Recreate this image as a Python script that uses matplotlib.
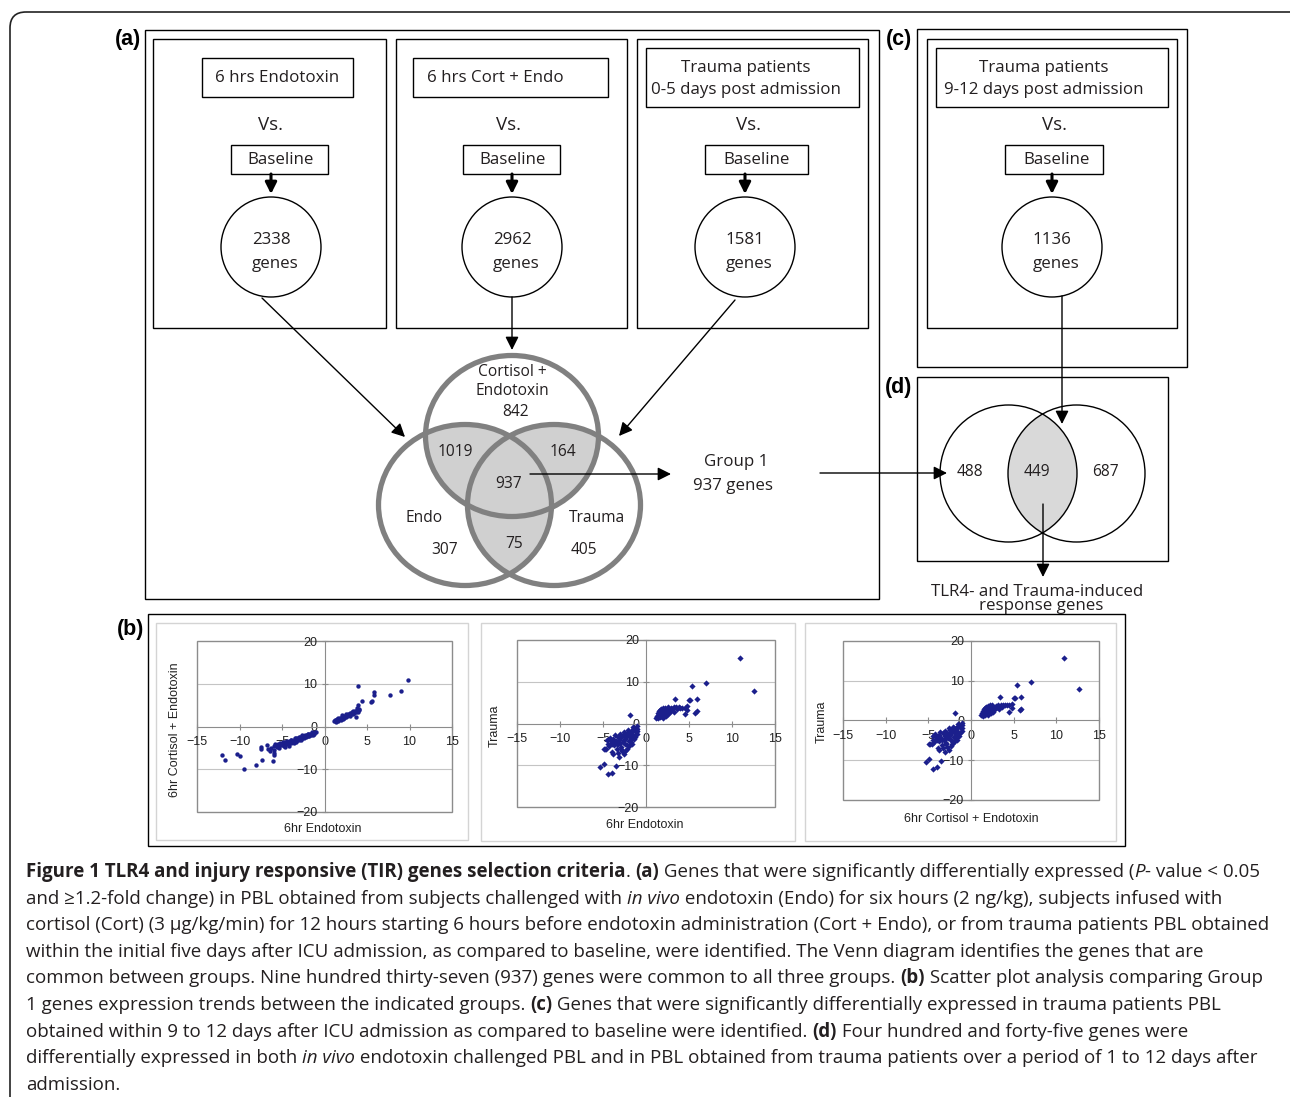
import numpy as np
import matplotlib
matplotlib.use("Agg")
from matplotlib import pyplot as plt
from matplotlib.patches import Rectangle, Ellipse, Circle, FancyBboxPatch

W, H = 1290, 1097
FONT = "Open Sans"
CHART_FONT = "Liberation Sans"
INK = "#231f20"

# ---- panel (a) inputs ----
conditions = ["6 hrs Endotoxin", "6 hrs Cort + Endo", "Trauma patients\n0-5 days post admission"]
condition_genes = [2338, 2962, 1581]

# ---- three way venn counts ----
venn3_names = ["Cortisol +\nEndotoxin", "Endo", "Trauma"]
only_cort_endo, only_endo, only_trauma = 842, 307, 405
endo_and_cort, cort_and_trauma, endo_and_trauma = 1019, 164, 75
all_three = 937

# ---- panel (c) / (d) ----
late_condition = "Trauma patients\n9-12 days post admission"
late_genes = 1136
venn2_counts = [488, 449, 687]

# ---- panel (b) scatter data (log fold changes) ----
endo_vs_cort = [
    (-12.1, -6.6), (-11.7, -7.9), (-10.3, -6.4), (-10.0, -7.0), (-9.5, -9.9), (-8.1, -9.1),
    (-7.5, -4.7), (-7.5, -5.2), (-6.8, -4.4), (-6.7, -5.2), (-7.3, -7.8), (-6.4, -5.8),
    (-6.1, -8.1), (-6.0, -4.6), (-6.0, -5.6), (-5.9, -6.2), (-5.9, -6.7), (-6.3, -5.0),
    (-5.8, -4.2), (-5.6, -4.8), (-5.5, -4.0), (-5.3, -4.5), (-5.2, -3.8), (-5.0, -4.3),
    (-4.9, -3.7), (-4.8, -4.6), (-4.6, -3.6), (-4.5, -4.0), (-4.4, -3.3), (-4.3, -4.2),
    (-4.1, -3.5), (-4.0, -3.9), (-3.9, -3.1), (-3.8, -3.6), (-3.7, -3.3), (-3.6, -3.8),
    (-3.5, -3.0), (-3.4, -3.4), (-3.3, -2.8), (-3.2, -3.2), (-3.1, -2.7), (-3.0, -3.1),
    (-2.9, -2.5), (-2.8, -2.9), (-2.7, -2.4), (-2.6, -2.8), (-2.5, -2.3), (-2.4, -2.6),
    (-2.3, -2.1), (-2.2, -2.5), (-2.1, -2.0), (-2.0, -2.3), (-1.9, -1.8), (-1.8, -2.2),
    (-1.7, -1.7), (-1.6, -2.0), (-1.5, -1.6), (-1.4, -1.9), (-1.3, -1.5), (-1.2, -1.7),
    (-1.1, -1.4), (-1.0, -1.3), (-2.6, -2.1), (-3.0, -2.5), (-3.5, -2.8), (-4.0, -3.2),
    (-4.5, -3.6), (-5.0, -4.0), (-2.0, -1.7), (-1.5, -1.3), (-3.3, -3.6), (-2.8, -3.2),
    (-4.2, -4.5), (-5.4, -5.1), (-4.7, -4.9),
    (1.1, 1.3), (1.2, 1.6), (1.3, 1.2), (1.4, 1.5), (1.5, 1.8), (1.6, 1.4), (1.7, 1.7),
    (1.8, 2.0), (1.9, 1.6), (2.0, 1.9), (2.1, 2.3), (2.2, 1.8), (2.3, 2.1), (2.4, 2.5),
    (2.5, 2.2), (2.6, 2.8), (2.7, 2.4), (2.8, 3.0), (2.9, 2.6), (3.0, 3.2), (3.1, 2.9),
    (3.2, 3.4), (3.3, 3.0), (3.4, 3.6), (3.5, 3.2), (3.6, 3.7), (3.7, 3.3), (3.8, 3.9),
    (3.9, 3.5), (3.8, 4.3), (3.9, 5.0), (3.7, 2.2), (4.0, 3.8), (4.1, 4.2), (2.0, 2.6),
    (1.6, 2.1), (2.5, 3.0), (3.0, 2.5), (1.4, 1.1), (2.2, 2.5),
    (3.9, 9.5), (4.4, 6.0), (5.5, 5.7), (5.6, 6.0), (5.8, 8.1), (5.8, 7.4), (7.7, 7.4),
    (9.0, 8.2), (9.8, 10.9),
]
endo_vs_trauma = [
    (-1.0, -1.2), (-1.2, -2.0), (-1.3, -1.5), (-1.5, -2.8), (-1.6, -1.8), (-1.8, -3.5),
    (-1.9, -2.2), (-2.0, -4.2), (-2.1, -1.6), (-2.2, -3.0), (-2.3, -2.4), (-2.4, -5.0),
    (-2.5, -3.6), (-2.6, -2.0), (-2.7, -4.4), (-2.8, -3.1), (-2.9, -5.6), (-3.0, -2.6),
    (-3.1, -3.9), (-3.2, -4.8), (-3.3, -3.2), (-3.4, -6.2), (-3.5, -4.3), (-3.6, -2.8),
    (-3.7, -5.2), (-3.8, -3.6), (-4.0, -4.6), (-4.2, -3.4), (-4.3, -5.5), (-4.5, -4.0),
    (-4.8, -6.0), (-4.9, -6.0), (-4.6, -6.0), (-4.0, -5.0), (-3.8, -7.4), (-3.1, -8.0),
    (-2.6, -7.4), (-2.8, -6.6), (-2.2, -6.0), (-1.6, -4.8), (-1.4, -3.8), (-1.1, -2.6),
    (-1.7, -2.6), (-2.0, -3.0), (-2.4, -3.0), (-2.6, -4.0), (-3.0, -4.6), (-3.4, -5.0),
    (-2.2, -5.2), (-1.9, -4.0), (-1.3, -3.2), (-1.0, -1.8), (-1.2, -1.1), (-1.5, -1.4),
    (-2.0, -2.0), (-2.5, -2.5), (-3.0, -3.5), (-3.6, -4.5), (-4.1, -4.2), (-2.9, -6.0),
    (-3.3, -7.0), (-2.4, -6.5), (-2.0, -5.5), (-1.8, -4.5), (-3.9, -6.8), (-4.4, -5.0),
    (-1.9, 2.0), (-5.3, -10.4), (-4.9, -9.6), (-4.4, -12.2), (-4.0, -11.8), (-3.5, -10.2),
    (-1.5, -0.8), (-1.1, -0.6),
    (1.2, 1.3), (1.3, 1.8), (1.4, 1.2), (1.5, 2.2), (1.6, 1.5), (1.7, 2.6), (1.8, 1.9),
    (1.9, 3.0), (2.0, 1.4), (2.1, 2.4), (2.2, 3.3), (2.3, 1.8), (2.4, 2.8), (2.5, 3.7),
    (2.6, 2.2), (2.7, 3.2), (2.5, 4.0), (2.2, 3.8), (1.8, 3.4), (1.5, 2.9), (1.3, 1.5),
    (2.0, 2.0), (2.4, 2.4), (2.6, 3.0), (2.0, 3.6), (1.6, 3.2), (2.8, 2.8), (2.9, 3.6),
    (3.0, 3.4), (3.3, 2.8), (3.4, 5.8), (3.6, 3.4), (3.8, 3.9), (4.0, 3.8), (4.2, 3.8),
    (4.5, 3.8), (4.8, 4.2), (4.8, 3.2), (4.5, 2.2), (5.05, 5.6), (5.15, 5.7), (5.7, 2.6),
    (5.9, 3.0), (5.9, 5.8), (5.4, 9.0), (7.0, 9.8), (10.9, 15.6), (12.6, 7.8), (3.2, 4.0),
    (3.5, 3.9), (1.4, 2.5), (1.9, 2.3),
]
# the third scatter shows the same cloud as the second one
cort_vs_trauma = list(endo_vs_trauma)

x_ticks = [-15, -10, -5, 0, 5, 10, 15]
y_ticks = [-20, -10, 0, 10, 20]

caption = [
    [("Figure 1 TLR4 and injury responsive (TIR) genes selection criteria", "bold", "normal"),
     (". ", "normal", "normal"), ("(a)", "bold", "normal"),
     (" Genes that were significantly differentially expressed (", "normal", "normal"),
     ("P", "normal", "italic"), ("- value < 0.05", "normal", "normal")],
    [("and \u22651.2-fold change) in PBL obtained from subjects challenged with ", "normal", "normal"),
     ("in vivo", "normal", "italic"),
     (" endotoxin (Endo) for six hours (2 ng/kg), subjects infused with", "normal", "normal")],
    [("cortisol (Cort) (3 \u00b5g/kg/min) for 12 hours starting 6 hours before endotoxin administration (Cort + Endo), or from trauma patients PBL obtained", "normal", "normal")],
    [("within the initial five days after ICU admission, as compared to baseline, were identified. The Venn diagram identifies the genes that are", "normal", "normal")],
    [("common between groups. Nine hundred thirty-seven (937) genes were common to all three groups. ", "normal", "normal"),
     ("(b)", "bold", "normal"), (" Scatter plot analysis comparing Group", "normal", "normal")],
    [("1 genes expression trends between the indicated groups. ", "normal", "normal"),
     ("(c)", "bold", "normal"),
     (" Genes that were significantly differentially expressed in trauma patients PBL", "normal", "normal")],
    [("obtained within 9 to 12 days after ICU admission as compared to baseline were identified. ", "normal", "normal"),
     ("(d)", "bold", "normal"), (" Four hundred and forty-five genes were", "normal", "normal")],
    [("differentially expressed in both ", "normal", "normal"), ("in vivo", "normal", "italic"),
     (" endotoxin challenged PBL and in PBL obtained from trauma patients over a period of 1 to 12 days after", "normal", "normal")],
    [("admission.", "normal", "normal")],
]

fig = plt.figure(figsize=(W / 100, H / 100), dpi=100)
ov = fig.add_axes([0, 0, 1, 1])
ov.set_xlim(0, W)
ov.set_ylim(H, 0)
ov.axis("off")

BOX_SIZE = 12.2
VENN_SIZE = 11.2


def box(x0, y0, x1, y1, lw=1.0, ec="k"):
    ov.add_patch(Rectangle((x0, y0), x1 - x0, y1 - y0, fill=False, lw=lw, ec=ec))


def txt(x, y, s, size=BOX_SIZE, ls=1.2, **kw):
    ov.text(x, y + 1.5, s, ha="center", va="center", fontsize=size, family=FONT, color=INK,
            linespacing=ls, **kw)


def arrow(x0, y0, x1, y1, lw=1.0, ms=20):
    ov.annotate("", xy=(x1, y1), xytext=(x0, y0),
                arrowprops=dict(arrowstyle="-|>", lw=lw, color="k", mutation_scale=ms,
                                shrinkA=0, shrinkB=0))


# outer rounded frame
ov.add_patch(FancyBboxPatch((10, 12), 1300, 1120, boxstyle="round,pad=0,rounding_size=16",
                            fill=False, lw=1.2, ec="#222222"))

# panel letters
for lab, lx, ly in [("(a)", 128, 40), ("(c)", 899, 40), ("(d)", 899, 387), ("(b)", 131, 629)]:
    ov.text(lx, ly, lab, ha="center", va="center", fontsize=15.5, weight="bold",
            family=CHART_FONT, color="k")

# panel frames
box(145, 30, 879, 599)
box(917, 29, 1187, 367)
box(917, 377, 1168, 561)
box(148, 614, 1125, 846)

cols = [
    dict(frame=(153, 386), tb=(202, 58, 353, 97), tc=(277, 76), vs=(271, 124), bl=(231, 328), blc=(281, 159), c=(271, 247)),
    dict(frame=(396, 627), tb=(413, 58, 608, 97), tc=(495, 76), vs=(509, 124), bl=(463, 560), blc=(513, 159), c=(512, 247)),
    dict(frame=(637, 868), tb=(646, 48, 859, 107), tc=(746, 77), vs=(748, 124), bl=(705, 808), blc=(757, 159), c=(745, 247)),
    dict(frame=(927, 1177), tb=(936, 48, 1168, 107), tc=(1044, 77), vs=(1054, 124), bl=(1005, 1103), blc=(1057, 159), c=(1052, 247)),
]
col_texts = conditions + [late_condition]
col_genes = condition_genes + [late_genes]
for cfg, name, genes in zip(cols, col_texts, col_genes):
    fx0, fx1 = cfg["frame"]
    box(fx0, 39, fx1, 328)
    box(*cfg["tb"])
    txt(*cfg["tc"], name, ls=1.5)
    txt(*cfg["vs"], "Vs.", size=13.5)
    box(cfg["bl"][0], 145, cfg["bl"][1], 174)
    txt(*cfg["blc"], "Baseline")
    cx, cy = cfg["c"]
    arrow(cx, 174, cx, 194, lw=2.2, ms=17)
    ov.add_patch(Circle((cx, cy), 50, fill=False, lw=1.0, ec="k"))
    txt(cx, cy - 8, str(genes))
    txt(cx + 4, cy + 15, "genes")

# arrows into the three-way venn
arrow(262, 298, 405, 437)
arrow(512, 297, 512, 350)
arrow(735, 300, 619, 436)

# three-way venn
vw, vh = 173, 161
c_top, c_left, c_right = (512, 436), (465, 505), (554, 505)
shade = "#d0d0d0"
for a, b in [(c_top, c_left), (c_top, c_right), (c_left, c_right)]:
    e = Ellipse(a, vw, vh, fc=shade, ec="none")
    ov.add_patch(e)
    e.set_clip_path(Ellipse(b, vw, vh, transform=ov.transData))
for c in (c_top, c_left, c_right):
    ov.add_patch(Ellipse(c, vw, vh, fill=False, lw=3.8, ec="#808080"))
txt(512, 380, venn3_names[0], size=VENN_SIZE)
txt(516, 410, str(only_cort_endo), size=VENN_SIZE)
txt(455, 451, str(endo_and_cort), size=VENN_SIZE)
txt(563, 451, str(cort_and_trauma), size=VENN_SIZE)
txt(509, 483, str(all_three), size=VENN_SIZE)
txt(424, 516, venn3_names[1], size=VENN_SIZE)
txt(597, 516, venn3_names[2], size=VENN_SIZE)
txt(445, 548, str(only_endo), size=VENN_SIZE)
txt(514, 542, str(endo_and_trauma), size=VENN_SIZE)
txt(584, 548, str(only_trauma), size=VENN_SIZE)

arrow(530, 474, 671, 474)
txt(736, 461, "Group 1")
txt(733, 484, f"{all_three} genes")
arrow(820, 473, 947, 473)

# two-way venn (d)
d_left, d_right = (1008.5, 473.5), (1076.5, 473.5)
e = Ellipse(d_left, 137, 137, fc="#d9d9d9", ec="none")
ov.add_patch(e)
e.set_clip_path(Ellipse(d_right, 137, 137, transform=ov.transData))
for c in (d_left, d_right):
    ov.add_patch(Ellipse(c, 137, 137, fill=False, lw=1.0, ec="k"))
txt(970, 471, str(venn2_counts[0]), size=VENN_SIZE)
txt(1037, 471, str(venn2_counts[1]), size=VENN_SIZE)
txt(1105, 471, str(venn2_counts[2]), size=VENN_SIZE)
arrow(1062, 296, 1062, 424)
arrow(1043, 504, 1043, 577)
txt(1037, 590, "TLR4- and Trauma-induced")
txt(1041, 605, "response genes")

# ---- panel (b): excel style scatter plots ----
AXC = "#8c8c8c"
GRID = "#c4c4c4"
DOT = "#1b1f8c"


def excel_scatter(area, frame, pts, marker, xlabel, xl_pos, ylabel, yl_pos):
    fx0, fy0, fx1, fy1 = frame
    box(fx0, fy0, fx1, fy1, lw=1.0, ec="#d4d4d4")
    x0, y0, x1, y1 = area
    ax = fig.add_axes([x0 / W, 1 - y1 / H, (x1 - x0) / W, (y1 - y0) / H])
    ax.set_xlim(-15, 15)
    ax.set_ylim(-20, 20)
    for s in ("top", "right"):
        ax.spines[s].set_visible(False)
    for s in ("left", "bottom"):
        ax.spines[s].set_position(("data", 0))
        ax.spines[s].set_color(AXC)
        ax.spines[s].set_linewidth(0.8)
    ax.add_patch(Rectangle((0, 0), 1, 1, transform=ax.transAxes, fill=False, ec=AXC,
                           lw=1.0, clip_on=False))
    for g in (-10, 10):
        ax.axhline(g, color=GRID, lw=0.8, zorder=0)
    ax.set_xticks(x_ticks)
    ax.set_yticks(y_ticks)
    ax.tick_params(direction="inout", length=4, width=0.8, color=AXC, labelsize=9,
                   labelcolor="#222222")
    ax.tick_params(axis="x", pad=5)
    ax.tick_params(axis="y", pad=3)
    for lab in ax.get_xticklabels() + ax.get_yticklabels():
        lab.set_family(CHART_FONT)
    arr = np.array(pts)
    ax.scatter(arr[:, 0], arr[:, 1], s=10, marker=marker, color=DOT, linewidths=0, zorder=3,
               clip_on=False)
    ov.text(*xl_pos, xlabel, ha="center", va="center", fontsize=9, family=CHART_FONT,
            color="#222222")
    ov.text(*yl_pos, ylabel, ha="center", va="center", fontsize=9, family=CHART_FONT,
            color="#222222", rotation=90)


excel_scatter((197, 641, 452, 812), (156, 623, 468, 840), endo_vs_cort, "o",
              "6hr Endotoxin", (323, 829), "6hr Cortisol + Endotoxin", (175, 730))
excel_scatter((517, 640, 775, 807), (481, 623, 795, 841), endo_vs_trauma, "D",
              "6hr Endotoxin", (645, 825), "Trauma", (495, 726))
excel_scatter((843, 641, 1099, 800), (805, 623, 1116, 841), cort_vs_trauma, "D",
              "6hr Cortisol + Endotoxin", (971, 819), "Trauma", (822, 722))

# ---- caption with mixed styles ----
renderer = fig.canvas.get_renderer()


def seg_width(s, weight, style, size):
    t = ov.text(0, 0, "|" + s + "|", fontsize=size, family=FONT, weight=weight, style=style)
    w1 = t.get_window_extent(renderer).width
    t.remove()
    t = ov.text(0, 0, "||", fontsize=size, family=FONT, weight=weight, style=style)
    w2 = t.get_window_extent(renderer).width
    t.remove()
    return w1 - w2


# size the caption so that the plain third line spans the same width as in the figure
base = 10.0
w_ref = sum(seg_width(s, wt, st, base) for s, wt, st in caption[2])
cap_size = base * 1241 / w_ref

for i, line in enumerate(caption):
    x = 26
    y = 877 + 26.6 * i
    for s, wt, st in line:
        ov.text(x, y, s, ha="left", va="baseline", fontsize=cap_size, family=FONT,
                weight=wt, style=st, color=INK)
        x += seg_width(s, wt, st, cap_size)

fig.savefig("out.png", dpi=100)
